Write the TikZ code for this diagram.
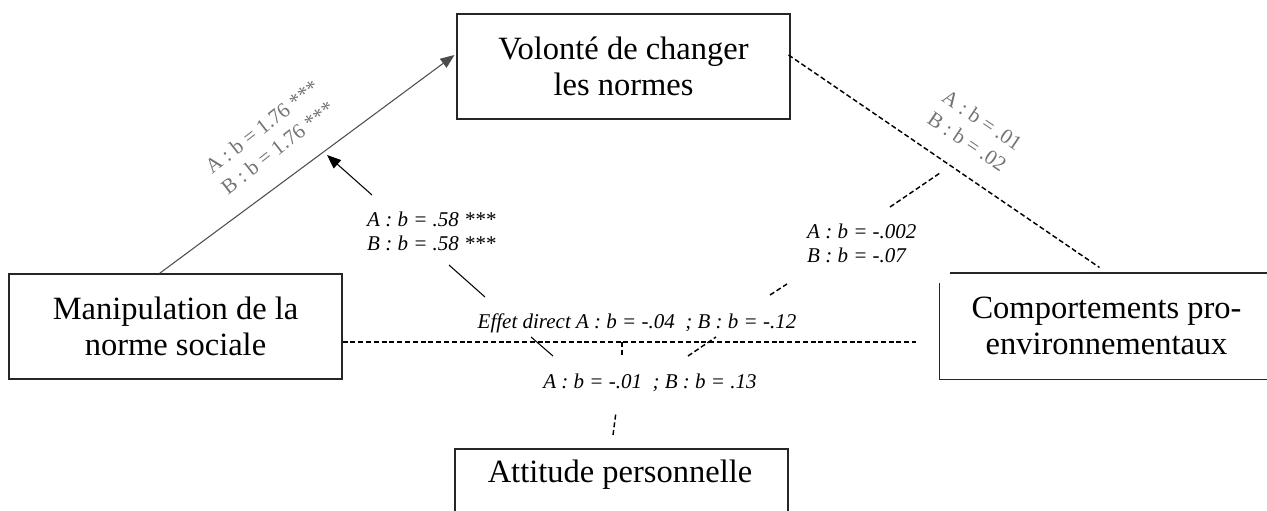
\documentclass[tikz,border=0pt]{standalone}
\usepackage{fontspec}
\setmainfont{Liberation Serif}
\usetikzlibrary{arrows.meta,calc}
\begin{document}
\begin{tikzpicture}[x=1pt,y=-1pt,
  box/.style={draw=black!85, line width=1.1pt, minimum width=333pt, minimum height=105pt, inner sep=0pt, align=center, font=\fontsize{32.5}{36}\selectfont},
  boxline/.style={draw=black!85, line width=1.1pt},
  lab/.style={font=\fontsize{21}{24}\selectfont\itshape, inner sep=0pt, align=left},
  glab/.style={font=\fontsize{21}{26}\selectfont, text=black!55, inner sep=0pt, align=left},
  dsh/.style={line width=1.45pt, dash pattern=on 5pt off 2.8pt},
  sol/.style={line width=1.05pt},
  tipstyle/.style={-{Triangle[length=14pt,width=11pt]}}
]
\useasboundingbox (0,0) rectangle (1267,511);

% boxes
\node[box] (vol) at (623.5,66.5) {Volonté de changer\\les normes};
\node[box] (manip) at (175.5,326.5) {Manipulation de la\\norme sociale};
\node[box, draw=none] (comp) at (1106.5,326) {Comportements pro-\\environnementaux};
\draw[boxline] ($(comp.north west)+(11,0)$) -- (comp.north east);
\draw[boxline] ($(comp.north west)+(0,10)$) -- (comp.south west) -- (comp.south east);
\node[box] (att) at (621.5,501.5) {};
\node[font=\fontsize{32.5}{36}\selectfont, inner sep=0pt, anchor=base] (atttext) at (620,482) {Attitude personnelle};

% labels
\node[lab, anchor=west] (l58) at (367,231.5) {A : b = .58 ***\\B : b = .58 ***};
\node[lab, anchor=west] (l002) at (807,243) {A : b = -.002\\B : b = -.07};
\node[lab, anchor=base] (ldir) at (637,328) {Effet direct A : b = -.04~ ; B : b = -.12};
\node[lab, anchor=base] (latt) at (650,388) {A : b = -.01~ ; B : b = .13};
\node[glab, rotate=38] (l176) at (270,137) {A : b = 1.76 ***\\B : b = 1.76 ***};
\node[glab, rotate=-34] (l01) at (975,131) {A : b = .01\\B : b = .02};

% main connectors
\draw[sol, black!70, tipstyle] ($(manip.north west)+(151,0)$) -- ($(vol.west)+(-2,-11.5)$);
\draw[dsh] ($(vol.east)+(-2,-11.5)$) -- ($(comp.north west)+(160,-5.5)$);
\draw[dsh] ($(manip.east)+(0,15.5)$) -- ($(comp.west)+(-23,16)$);

% moderation path fragments
\coordinate (a1) at (372,195); \coordinate (a2) at (327,155);
\coordinate (b1) at (485,297); \coordinate (b2) at (449,265);
\coordinate (c1) at (553,356); \coordinate (c2) at (531,337);
\coordinate (d1) at (890,207); \coordinate (d2) at (940,173);
\coordinate (e1) at (770,295); \coordinate (e2) at (787,284);
\coordinate (f1) at (688,356); \coordinate (f2) at (716,337);
\coordinate (g1) at (622,342); \coordinate (g2) at (622,355);
\coordinate (h1) at (613,435); \coordinate (h2) at (616,412);
\draw[sol, tipstyle] (a1) -- (a2);
\draw[sol] (b1) -- (b2);
\draw[sol] (c1) -- (c2);
\draw[dsh] (d1) -- (d2);
\draw[dsh] (e1) -- (e2);
\draw[dsh] (f1) -- (f2);
\draw[dsh] (g1) -- (g2);
\draw[dsh] (h1) -- (h2);
\end{tikzpicture}
\end{document}
